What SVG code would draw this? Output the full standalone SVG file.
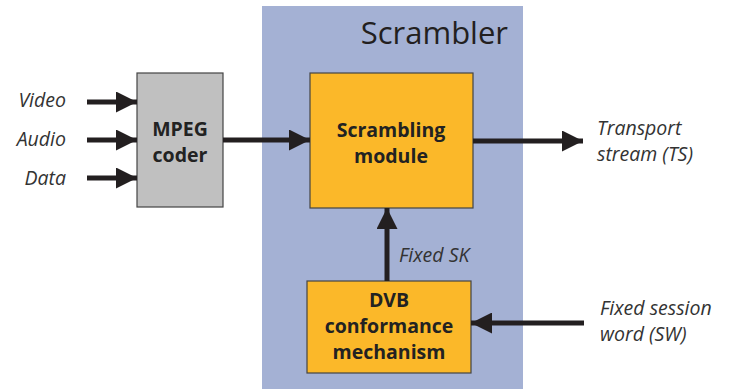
<svg xmlns="http://www.w3.org/2000/svg" width="731" height="389" viewBox="0 0 731 389">
<style>
.lbl{font-family:"Open Sans","Liberation Sans",sans-serif;font-style:italic;font-size:19.5px;fill:#333}
.bt{font-family:"Open Sans","Liberation Sans",sans-serif;font-weight:bold;font-size:19.5px;fill:#222;text-anchor:middle}
.box{stroke:#444;stroke-width:1.2}
.ln{stroke:#231f20;stroke-width:5;fill:none}
</style>
<defs>
<marker id="ah" viewBox="0 0 10 10" refX="10" refY="5" markerWidth="4.4" markerHeight="4.2" orient="auto" markerUnits="strokeWidth">
<path d="M0,0 L10,5 L0,10 z" fill="#231f20"/>
</marker>
</defs>
<rect x="262" y="6" width="261" height="383" fill="#a4b1d4"/>
<text x="508" y="44" text-anchor="end" font-family="'Open Sans','Liberation Sans',sans-serif" font-size="31" fill="#231f20">Scrambler</text>
<g id="mpeg">
<rect class="box" x="137" y="73" width="86" height="134" fill="#c0c0c0"/>
<text class="bt" x="180" y="136">MPEG</text>
<text class="bt" x="180" y="162">coder</text>
</g>
<g id="scrambling">
<rect class="box" x="310" y="73" width="163" height="135" fill="#fbb829"/>
<text class="bt" x="391" y="137">Scrambling</text>
<text class="bt" x="391" y="163">module</text>
</g>
<g id="dvb">
<rect class="box" x="307" y="281" width="164" height="92" fill="#fbb829"/>
<text class="bt" x="389" y="307">DVB</text>
<text class="bt" x="389" y="333">conformance</text>
<text class="bt" x="389" y="359">mechanism</text>
</g>
<g id="labels">
<text class="lbl" x="66" y="107" text-anchor="end">Video</text>
<text class="lbl" x="66" y="146" text-anchor="end">Audio</text>
<text class="lbl" x="66" y="185" text-anchor="end">Data</text>
<text class="lbl" x="597" y="135">Transport</text>
<text class="lbl" x="597" y="161">stream (TS)</text>
<text class="lbl" x="399" y="262">Fixed SK</text>
<text class="lbl" x="600" y="315">Fixed session</text>
<text class="lbl" x="600" y="341">word (SW)</text>
</g>
<g id="connectors">
<line class="ln" x1="87" y1="102" x2="137" y2="102" marker-end="url(#ah)"/>
<line class="ln" x1="87" y1="140" x2="137" y2="140" marker-end="url(#ah)"/>
<line class="ln" x1="87" y1="178" x2="137" y2="178" marker-end="url(#ah)"/>
<line class="ln" x1="223" y1="140" x2="310" y2="140" marker-end="url(#ah)"/>
<line class="ln" x1="473" y1="141" x2="583" y2="141" marker-end="url(#ah)"/>
<line class="ln" x1="387" y1="281" x2="387" y2="208" marker-end="url(#ah)"/>
<line class="ln" x1="584" y1="323" x2="471" y2="323" marker-end="url(#ah)"/>
</g>
</svg>
